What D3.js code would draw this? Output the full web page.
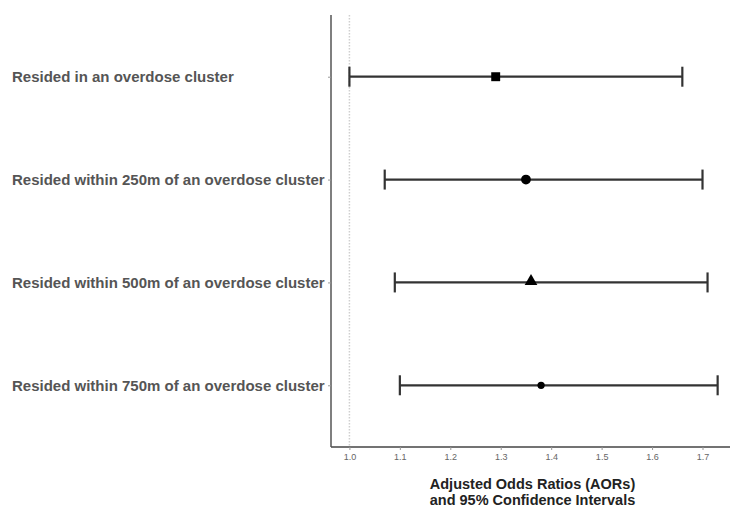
<!DOCTYPE html>
<html>
<head>
<meta charset="utf-8">
<script src="https://cdn.jsdelivr.net/npm/d3@7"></script>
<style>
html,body{margin:0;padding:0;background:#fff;}
svg{display:block;}
</style>
</head>
<body>
<svg id="chart" width="731" height="511"></svg>
<script>
const categories = [
  "Resided in an overdose cluster",
  "Resided within 250m of an overdose cluster",
  "Resided within 500m of an overdose cluster",
  "Resided within 750m of an overdose cluster"
];
const estimates = [1.29, 1.35, 1.36, 1.38];
const lowerCI = [1.00, 1.07, 1.09, 1.10];
const upperCI = [1.66, 1.70, 1.71, 1.73];
const shapes = ["square", "circle", "triangle", "smallcircle"];
const xTicks = [1.0, 1.1, 1.2, 1.3, 1.4, 1.5, 1.6, 1.7];
const refValue = 1.0;
const xTitle = ["Adjusted Odds Ratios (AORs)", "and 95% Confidence Intervals"];

(function () {
const svg = d3.select("#chart");
const pLeft = 331, pRight = 730, pTop = 15, pBottom = 447;

const x = d3.scaleLinear().domain([0.9635, 1.7545]).range([pLeft, pRight]);
const y = d3.scalePoint().domain(categories).range([pTop, pBottom]).padding(0.6);

// reference dotted line
svg.append("line")
  .attr("x1", x(refValue)).attr("x2", x(refValue))
  .attr("y1", pTop).attr("y2", pBottom)
  .attr("stroke", "#cfcfcf").attr("stroke-width", 1.5)
  .attr("stroke-dasharray", "1.5,1.5");

// axes
const xAxis = d3.axisBottom(x).tickValues(xTicks).tickFormat(d3.format(".1f")).tickSize(3).tickPadding(4);
const gx = svg.append("g").attr("transform", `translate(0,${pBottom})`).call(xAxis);
gx.select(".domain").attr("stroke", "#444").attr("stroke-width", 1.3).attr("d", `M${pLeft},0H${pRight}`);
gx.selectAll(".tick line").attr("stroke", "#999");
gx.selectAll(".tick text").attr("fill", "#666").style("font-family", "Liberation Sans, Arial, sans-serif").style("font-size", "9px");

const yAxis = d3.axisLeft(y).tickSize(3).tickFormat("");
const gy = svg.append("g").attr("transform", `translate(${pLeft},0)`).call(yAxis);
gy.select(".domain").attr("stroke", "#555").attr("stroke-width", 1.5).attr("d", `M0,${pTop}V${pBottom}`);
gy.selectAll(".tick line").attr("stroke", "#999");

// category labels (left-aligned)
svg.append("g").selectAll("text").data(categories).join("text")
  .attr("x", 12).attr("y", d => y(d)).attr("dy", "0.35em")
  .attr("fill", "#555")
  .style("font-family", "Liberation Sans, Arial, sans-serif")
  .style("font-weight", "bold").style("font-size", "15px")
  .text(d => d);

// error bars
const rows = categories.map((c, i) => ({c, est: estimates[i], lo: lowerCI[i], hi: upperCI[i], shape: shapes[i]}));
const eb = svg.append("g").attr("stroke", "#333").attr("stroke-width", 2.2);
rows.forEach(r => {
  const yy = y(r.c);
  eb.append("line").attr("x1", x(r.lo)).attr("x2", x(r.hi)).attr("y1", yy).attr("y2", yy);
  eb.append("line").attr("x1", x(r.lo)).attr("x2", x(r.lo)).attr("y1", yy - 10).attr("y2", yy + 10);
  eb.append("line").attr("x1", x(r.hi)).attr("x2", x(r.hi)).attr("y1", yy - 10).attr("y2", yy + 10);
});

// points
const sym = {
  square: d3.symbol().type(d3.symbolSquare).size(80),
  circle: d3.symbol().type(d3.symbolCircle).size(75),
  triangle: d3.symbol().type(d3.symbolTriangle).size(70),
  smallcircle: d3.symbol().type(d3.symbolCircle).size(42)
};
svg.append("g").selectAll("path").data(rows).join("path")
  .attr("transform", r => `translate(${x(r.est)},${y(r.c) + (r.shape === "triangle" ? -1 : 0)})`)
  .attr("d", r => sym[r.shape]())
  .attr("fill", "#000");

// x title
xTitle.forEach((s, i) => {
  svg.append("text").attr("text-anchor", "middle")
    .attr("fill", "#222")
    .style("font-family", "Liberation Sans, Arial, sans-serif")
    .style("font-weight", "bold").style("font-size", "14.5px")
    .attr("x", (pLeft + pRight) / 2 + 2).attr("y", 489 + i * 16).text(s);
});
})();
</script>
</body>
</html>
